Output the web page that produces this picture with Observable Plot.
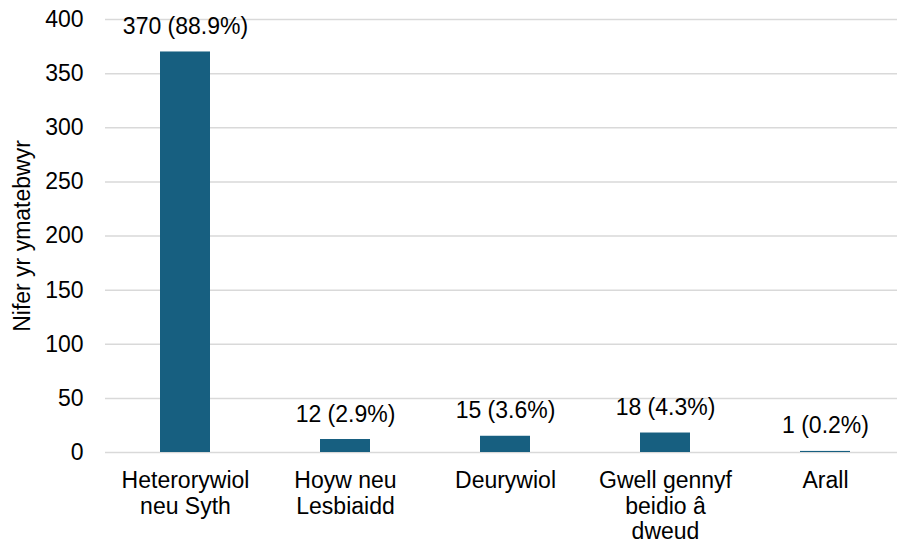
<!DOCTYPE html>
<html>
<head>
<meta charset="utf-8">
<script src="https://cdn.jsdelivr.net/npm/d3@7"></script>
<script src="https://cdn.jsdelivr.net/npm/@observablehq/plot@0.6"></script>
<style>
  html, body { margin: 0; padding: 0; background: #fff; }
  #chart { width: 897px; height: 551px; }
</style>
</head>
<body>
<div id="chart"></div>
<script>
const categories = ["Heterorywiol\nneu Syth", "Hoyw neu\nLesbiaidd", "Deurywiol", "Gwell gennyf\nbeidio â\ndweud", "Arall"];
const counts = [370, 12, 15, 18, 1];
const percents = [88.9, 2.9, 3.6, 4.3, 0.2];
const yTicks = [0, 50, 100, 150, 200, 250, 300, 350, 400];
const yTitle = "Nifer yr ymatebwyr";

const data = categories.map((c, i) => ({cat: c, n: counts[i], pct: percents[i]}));

const chart = Plot.plot({
  width: 897,
  height: 551,
  marginLeft: 105,
  marginRight: 0,
  marginTop: 19,
  marginBottom: 99,
  style: {fontFamily: "Arial, 'Liberation Sans', sans-serif", fontSize: "23px", color: "#000", background: "#fff"},
  x: {domain: categories, range: [105, 905], paddingInner: 0.6875, paddingOuter: 0.34375, label: null},
  y: {domain: [0, 400], label: null},
  marks: [
    Plot.ruleY(yTicks, {stroke: "#d9d9d9", strokeWidth: 1.5}),
    Plot.barY(data, {x: "cat", y: "n", fill: "#175f80"}),
    Plot.text(data, {x: "cat", y: "n", text: d => `${d.n} (${d.pct.toFixed(1)}%)`, lineAnchor: "bottom", dy: -18, fill: "#000", fontSize: 23}),
    Plot.axisX({tickSize: 0, tickPadding: 18, lineHeight: 1.1, fontSize: 23, label: null}),
    Plot.axisY({ticks: yTicks, tickSize: 0, tickPadding: 22, fontSize: 23, label: null}),
    Plot.text([yTitle], {frameAnchor: "left", textAnchor: "middle", rotate: -90, dx: -83, fontSize: 23, fill: "#000"})
  ]
});
document.getElementById("chart").appendChild(chart);
</script>
</body>
</html>
